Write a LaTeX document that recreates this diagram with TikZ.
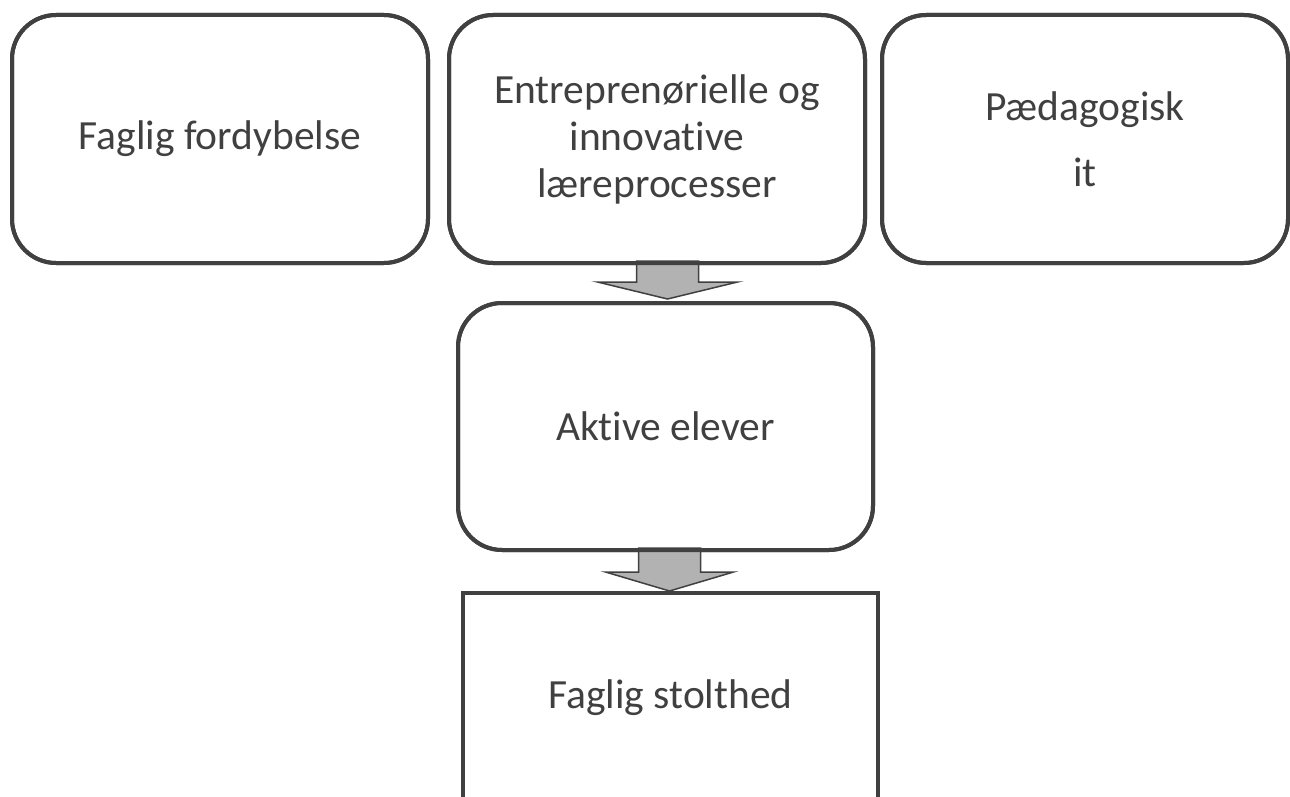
\documentclass[tikz,border=0pt]{standalone}
\usepackage{fontspec}
\setmainfont{Carlito}[Ligatures=NoCommon]
\usetikzlibrary{calc}
\definecolor{edge}{HTML}{404040}
\definecolor{arrowfill}{HTML}{B2B2B2}
\tikzset{
  rbox/.style={draw=edge, line width=4pt, rounded corners=44pt, inner sep=0pt,
    align=center, text=edge, font=\fontsize{41.5}{47}\selectfont},
  sbox/.style={rbox, rounded corners=0pt},
  blockarrow/.style={draw=edge, fill=arrowfill, line width=1.5pt, line join=miter}
}
\begin{document}
\begin{tikzpicture}[x=1pt,y=-1pt]
\useasboundingbox (0,0) rectangle (1290,797);
\clip (0,0) rectangle (1290,797);
% boxes
\path
  node[rbox, minimum width=416pt, minimum height=248pt] (b1) at (220,139) {Faglig fordybelse}
  node[rbox, minimum width=416pt, minimum height=248pt] (b2) at (657,139) {Entreprenørielle og\\innovative\\læreprocesser}
  node[rbox, minimum width=406pt, minimum height=248pt] (b3) at (1085,139) {Pædagogisk\\[19pt]it}
  node[rbox, minimum width=415pt, minimum height=247pt] (akt) at (665.5,426.5) {Aktive elever}
  node[sbox, minimum width=415pt, minimum height=210pt] (stolt) at (670.5,698) {Faglig stolthed};
% block arrows
\coordinate (t1) at ($(akt.north)+(2,-2)$);
\draw[blockarrow] (t1) -- ($(t1)+(-70,-17)$) -- ($(t1)+(-31,-17)$)
  -- ($(b2.south -| t1)+(-31,-4)$) -- ($(b2.south -| t1)+(31,-4)$)
  -- ($(t1)+(31,-17)$) -- ($(t1)+(70,-17)$) -- cycle;
\coordinate (t2) at ($(stolt.north)+(-1,0)$);
\draw[blockarrow] (t2) -- ($(t2)+(-64,-19)$) -- ($(t2)+(-31,-19)$)
  -- ($(akt.south -| t2)+(-31,-4)$) -- ($(akt.south -| t2)+(31,-4)$)
  -- ($(t2)+(31,-19)$) -- ($(t2)+(64,-19)$) -- cycle;
% redraw box borders on top of arrow shafts
\foreach \n in {b1,b2,b3,akt}{
  \draw[draw=edge, line width=4pt, rounded corners=44pt]
    ($(\n.north west)+(2,2)$) rectangle ($(\n.south east)+(-2,-2)$);
}
\draw[draw=edge, line width=4pt]
  ($(stolt.north west)+(2,2)$) rectangle ($(stolt.south east)+(-2,-2)$);
\end{tikzpicture}
\end{document}
